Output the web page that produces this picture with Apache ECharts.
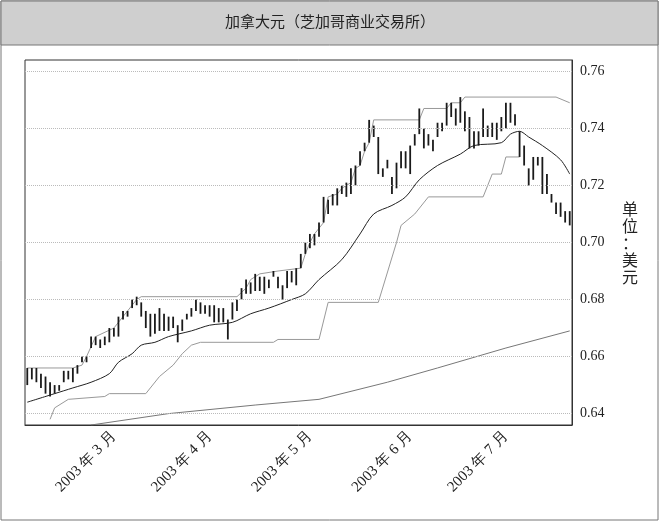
<!DOCTYPE html>
<html>
<head>
<meta charset="utf-8">
<script src="https://cdn.jsdelivr.net/npm/echarts@6/dist/echarts.min.js"></script>
<style>
html, body { margin: 0; padding: 0; background: #fff; }
#chart { width: 660px; height: 522px; }
</style>
</head>
<body>
<div id="chart"></div>
<script>
// 日最高价 / 最低价（2003-02-04 起的交易日）
var highs = [
    0.656, 0.656, 0.656, 0.654, 0.653, 0.651, 0.650, 0.650, 0.655, 0.655,
    0.656, 0.657, 0.660, 0.660, 0.667, 0.667, 0.666, 0.667, 0.670, 0.670,
    0.674, 0.676, 0.676, 0.680, 0.681, 0.679, 0.676, 0.675, 0.675, 0.677,
    0.675, 0.674, 0.674, 0.671, 0.673, 0.675, 0.677, 0.680, 0.679, 0.678,
    0.678, 0.678, 0.677, 0.677, 0.673, 0.679, 0.680, 0.684, 0.687, 0.686,
    0.689, 0.688, 0.688, 0.687, 0.690, 0.688, 0.685, 0.690, 0.690, 0.691,
    0.696, 0.700, 0.703, 0.703, 0.707, 0.716, 0.715, 0.717, 0.719, 0.720,
    0.721, 0.726, 0.727, 0.732, 0.735, 0.743, 0.741, 0.737, 0.726, 0.729,
    0.723, 0.728, 0.732, 0.732, 0.734, 0.738, 0.747, 0.740, 0.738, 0.736,
    0.742, 0.742, 0.749, 0.749, 0.747, 0.751, 0.746, 0.744, 0.739, 0.739,
    0.747, 0.741, 0.742, 0.742, 0.744, 0.749, 0.749, 0.745, 0.739, 0.734,
    0.726, 0.730, 0.730, 0.730, 0.724, 0.717, 0.714, 0.714, 0.711, 0.711
];
var lows = [
    0.650, 0.652, 0.651, 0.649, 0.647, 0.646, 0.647, 0.648, 0.651, 0.652,
    0.651, 0.654, 0.658, 0.658, 0.663, 0.664, 0.663, 0.664, 0.665, 0.667,
    0.667, 0.673, 0.674, 0.677, 0.678, 0.674, 0.670, 0.667, 0.668, 0.669,
    0.669, 0.669, 0.670, 0.665, 0.669, 0.673, 0.674, 0.676, 0.675, 0.675,
    0.674, 0.672, 0.672, 0.672, 0.666, 0.673, 0.676, 0.680, 0.682, 0.682,
    0.683, 0.683, 0.682, 0.684, 0.688, 0.684, 0.680, 0.684, 0.686, 0.685,
    0.691, 0.696, 0.698, 0.699, 0.702, 0.707, 0.710, 0.713, 0.713, 0.717,
    0.716, 0.717, 0.720, 0.727, 0.732, 0.735, 0.737, 0.724, 0.723, 0.726,
    0.717, 0.719, 0.726, 0.726, 0.724, 0.734, 0.738, 0.733, 0.734, 0.732,
    0.737, 0.739, 0.741, 0.744, 0.741, 0.742, 0.739, 0.733, 0.733, 0.734,
    0.737, 0.737, 0.737, 0.736, 0.739, 0.740, 0.742, 0.741, 0.730, 0.727,
    0.720, 0.722, 0.727, 0.717, 0.717, 0.714, 0.710, 0.709, 0.707, 0.706
];

// 指标线：[交易日序号, 数值]
var maShort = [
    [0, 0.644], [6, 0.647], [10, 0.649], [14, 0.651], [18, 0.654], [20, 0.658],
    [23, 0.661], [25, 0.664], [28, 0.665], [31, 0.667], [36, 0.669], [40, 0.671],
    [45, 0.672], [49, 0.675], [53, 0.677], [58, 0.680], [61, 0.682], [64, 0.687],
    [69, 0.694], [73, 0.703], [76, 0.710], [80, 0.713], [83, 0.716], [86, 0.722],
    [90, 0.727], [95, 0.731], [98, 0.734], [104, 0.735], [106, 0.738], [108, 0.739],
    [110, 0.737], [113, 0.734], [117, 0.729], [119, 0.724]
];
var channelHigh = [
    [0, 0.656], [10, 0.656], [12, 0.657], [13, 0.660], [15, 0.667], [19, 0.670],
    [21, 0.674], [22, 0.676], [24, 0.680], [25, 0.681], [46, 0.681], [48, 0.684],
    [49, 0.687], [51, 0.689], [55, 0.690], [60, 0.691], [61, 0.696], [62, 0.700],
    [63, 0.703], [65, 0.707], [66, 0.716], [68, 0.717], [69, 0.719], [71, 0.721],
    [72, 0.726], [73, 0.727], [74, 0.732], [75, 0.735], [76, 0.743], [86, 0.743],
    [87, 0.747], [92, 0.747], [93, 0.749], [95, 0.749], [96, 0.751], [116, 0.751],
    [119, 0.749]
];
var channelLow = [
    [5, 0.638], [6, 0.642], [9, 0.645], [17, 0.646], [18, 0.647], [26, 0.647],
    [29, 0.653], [32, 0.657], [34, 0.661], [36, 0.664], [38, 0.665], [54, 0.665],
    [55, 0.666], [64, 0.666], [66, 0.679], [77, 0.679], [81, 0.700], [82, 0.706],
    [85, 0.710], [88, 0.716], [100, 0.716], [102, 0.724], [104, 0.724], [105, 0.730],
    [108, 0.730]
];
var maLong = [
    [14, 0.636], [31, 0.640], [50, 0.643], [64, 0.645], [79, 0.651], [90, 0.656],
    [105, 0.663], [119, 0.669]
];
var yTicks = [0.64, 0.66, 0.68, 0.70, 0.72, 0.74, 0.76];

// 交易日（工作日）日期
var dates = [];
var d = new Date(2003, 1, 4);
while (dates.length < highs.length) {
    if (d.getDay() !== 0 && d.getDay() !== 6) {
        dates.push(d.getFullYear() + '-' + (d.getMonth() + 1) + '-' + d.getDate());
    }
    d.setDate(d.getDate() + 1);
}
function isMonthStart(i) {
    if (i === 0) return false;
    return dates[i].split('-')[1] !== dates[i - 1].split('-')[1];
}
function sparse(points) {
    var arr = dates.map(function () { return null; });
    points.forEach(function (p) { arr[p[0]] = p[1]; });
    return arr;
}

var serif = '"Liberation Serif", "DejaVu Serif", serif';
var chart = echarts.init(document.getElementById('chart'));
chart.setOption({
    animation: false,
    backgroundColor: '#fff',
    graphic: [
        { type: 'rect', shape: { x: 1, y: 1, width: 657, height: 519 },
          style: { fill: 'none', stroke: '#777', lineWidth: 1 } },
        { type: 'rect', shape: { x: 1, y: 1, width: 657, height: 44 },
          style: { fill: '#cfcfcf', stroke: '#777', lineWidth: 1 } },
        { type: 'text', left: 'center', top: 14,
          style: { text: '加拿大元（芝加哥商业交易所）', fontSize: 15, fill: '#222',
                   fontFamily: '"Noto Sans CJK SC"' } },
        { type: 'text', left: 622, top: 200,
          style: { text: '单\n位\n：\n美\n元', fontSize: 16, lineHeight: 17, fill: '#222',
                   fontFamily: '"Noto Sans CJK SC"' } }
    ],
    grid: { left: 25, right: 88, top: 60, bottom: 97, show: true,
            borderColor: '#333', borderWidth: 1 },
    xAxis: {
        type: 'category', data: dates, boundaryGap: true,
        axisLine: { lineStyle: { color: '#333' } },
        axisTick: { interval: function (i) { return isMonthStart(i); }, length: 6,
                    alignWithLabel: true, lineStyle: { color: '#333' } },
        axisLabel: {
            interval: function (i) { return isMonthStart(i); },
            rotate: 45, fontSize: 15, color: '#222', fontFamily: serif, margin: 9,
            formatter: function (v) {
                var p = v.split('-');
                return p[0] + ' 年 ' + p[1] + ' 月';
            }
        },
        splitLine: { show: false }
    },
    yAxis: {
        type: 'value', position: 'right', min: 0.636, max: 0.764, interval: 0.004,
        axisLine: { show: true, lineStyle: { color: '#333' } },
        axisTick: { show: false },
        splitLine: { show: false },
        axisLabel: {
            fontSize: 14, color: '#222', fontFamily: serif, margin: 8,
            formatter: function (v) {
                for (var k = 0; k < yTicks.length; k++) {
                    if (Math.abs(v - yTicks[k]) < 1e-6) return yTicks[k].toFixed(2);
                }
                return '';
            }
        }
    },
    series: [
        {
            type: 'line', data: sparse(maLong), connectNulls: true, showSymbol: false,
            lineStyle: { color: '#777', width: 1 }, z: 2
        },
        {
            type: 'line', data: sparse(channelLow), connectNulls: true, showSymbol: false,
            lineStyle: { color: '#999', width: 1 }, z: 2
        },
        {
            type: 'line', data: sparse(channelHigh), connectNulls: true, showSymbol: false,
            lineStyle: { color: '#999', width: 1 }, z: 2
        },
        {
            type: 'line', data: sparse(maShort), connectNulls: true, showSymbol: false,
            smooth: 0.3, lineStyle: { color: '#222', width: 1 }, z: 3
        },
        {
            type: 'custom', z: 4,
            data: highs.map(function (h, i) { return [i, h, lows[i]]; }),
            encode: { x: 0, y: [1, 2] },
            renderItem: function (params, api) {
                var top = api.coord([api.value(0), api.value(1)]);
                var bot = api.coord([api.value(0), api.value(2)]);
                return {
                    type: 'line',
                    shape: { x1: top[0], y1: top[1], x2: bot[0], y2: bot[1] },
                    style: { stroke: '#1a1a1a', lineWidth: 1.8 }
                };
            },
            markLine: {
                silent: true, symbol: 'none', label: { show: false },
                lineStyle: { color: '#bbb', type: 'dotted', width: 1 },
                data: yTicks.map(function (v) { return { yAxis: v }; })
            }
        }
    ]
});
</script>
</body>
</html>
